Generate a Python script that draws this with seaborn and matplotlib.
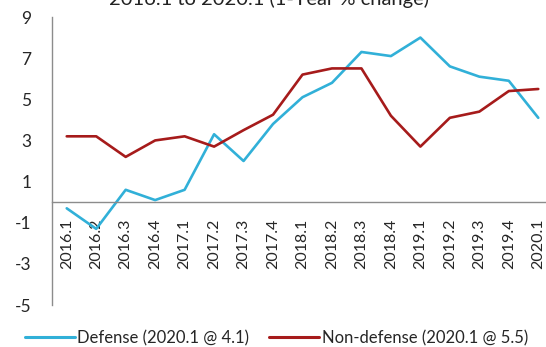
import pandas as pd
import numpy as np
import matplotlib
matplotlib.use('Agg')
import matplotlib.pyplot as plt
import seaborn as sns
from matplotlib.lines import Line2D

# 季度标签
quarters = ['2016.1', '2016.2', '2016.3', '2016.4',
            '2017.1', '2017.2', '2017.3', '2017.4',
            '2018.1', '2018.2', '2018.3', '2018.4',
            '2019.1', '2019.2', '2019.3', '2019.4', '2020.1']
defense = [-0.3, -1.3, 0.6, 0.1, 0.6, 3.3, 2.0, 3.8,
           5.1, 5.8, 7.3, 7.1, 8.0, 6.6, 6.1, 5.9, 4.1]
non_defense = [3.2, 3.2, 2.2, 3.0, 3.2, 2.7, 3.5, 4.25,
               6.2, 6.5, 6.5, 4.2, 2.7, 4.1, 4.4, 5.4, 5.5]
series_names = ['Defense (2020.1 @ 4.1)', 'Non-defense (2020.1 @ 5.5)']
colors = ['#31B0D8', '#A61B1B']
yticks = [-5, -3, -1, 1, 3, 5, 7, 9]

sns.set_style("white")
plt.rcParams['font.family'] = ['Lato', 'DejaVu Sans']

df = pd.DataFrame({
    'quarter': quarters * 2,
    'value': defense + non_defense,
    'series': [series_names[0]] * len(quarters) + [series_names[1]] * len(quarters),
})

fig = plt.figure(figsize=(5.46, 3.47), dpi=100)
ax = fig.add_axes([52/546, 42/347, 501/546, 288/347])

sns.lineplot(data=df, x='quarter', y='value', hue='series', palette=colors,
             linewidth=1.9, sort=False, ax=ax, legend=False)

ax.set_xlim(-0.5, len(quarters) - 0.5)
ax.set_ylim(-5, 9)
ax.set_yticks(yticks)
ax.set_yticklabels([str(t) for t in yticks], fontsize=12.5)
ax.set_xlabel('')
ax.set_ylabel('')

# x轴放在0处
ax.spines['bottom'].set_position(('data', 0))
ax.spines['top'].set_visible(False)
ax.spines['right'].set_visible(False)
for s in ['left', 'bottom']:
    ax.spines[s].set_color('#8c8c8c')
    ax.spines[s].set_linewidth(1.0)

ax.set_xticks(range(len(quarters)))
ax.set_xticklabels(quarters, rotation=90, fontsize=11.5)
ax.set_xticks(np.arange(-0.5, len(quarters) + 0.5, 1), minor=True)
ax.tick_params(axis='x', which='major', length=0, pad=12)
ax.tick_params(axis='x', which='minor', length=5, color='#8c8c8c', width=1.0)
ax.tick_params(axis='y', length=5, color='#8c8c8c', width=1.0, pad=10)

# 标题上半部分在原图中被裁掉
fig.text(0.493, 0.986, '2016.1 to 2020.1 (1-Year % change)', ha='center',
         va='baseline', fontsize=14.5, color='#222222')

# 图例
handles = [Line2D([], [], color=c, linewidth=2.2) for c in colors]
fig.legend(handles, series_names, loc='center left', bbox_to_anchor=(0.045, 0.026),
           ncol=2, frameon=False, fontsize=12, handlelength=3.0,
           handletextpad=0.15, columnspacing=1.2, borderaxespad=0, borderpad=0)

fig.savefig('out.png', dpi=100)
